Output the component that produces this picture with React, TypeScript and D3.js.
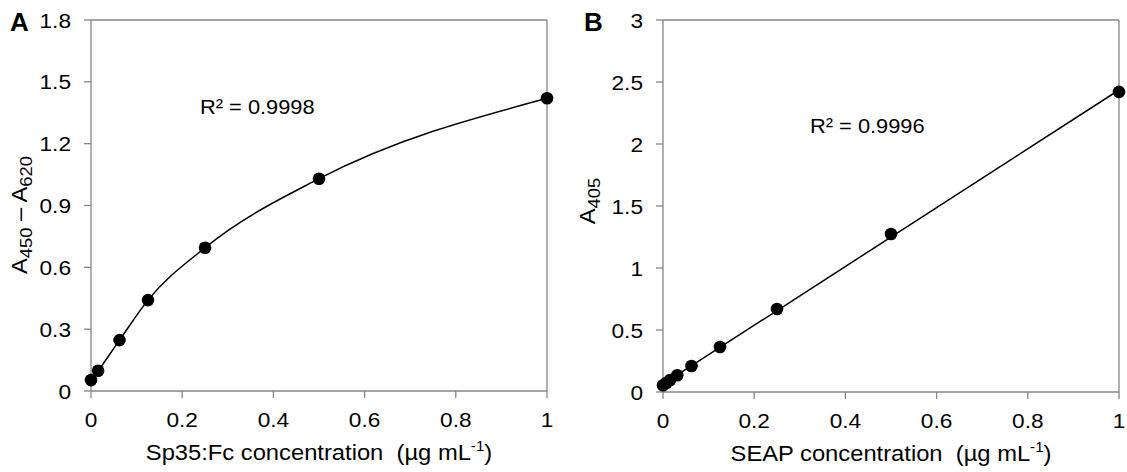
import React from "react";
import * as d3 from "d3";

// Panel A data
const xA = [0, 0.015625, 0.0625, 0.125, 0.25, 0.5, 1];
const yA = [0.053, 0.098, 0.247, 0.441, 0.695, 1.03, 1.42];
// Panel B data
const xB = [0, 0.0078125, 0.015625, 0.03125, 0.0625, 0.125, 0.25, 0.5, 1];
const yB = [0.054, 0.075, 0.097, 0.135, 0.21, 0.363, 0.669, 1.274, 2.42];

const xTicks = [0, 0.2, 0.4, 0.6, 0.8, 1];
const xTickLabels = ["0", "0.2", "0.4", "0.6", "0.8", "1"];
const yTicksA = [0, 0.3, 0.6, 0.9, 1.2, 1.5, 1.8];
const yTickLabelsA = ["0", "0.3", "0.6", "0.9", "1.2", "1.5", "1.8"];
const yTicksB = [0, 0.5, 1, 1.5, 2, 2.5, 3];
const yTickLabelsB = ["0", "0.5", "1", "1.5", "2", "2.5", "3"];

const FONT = "'Liberation Sans', Arial, sans-serif";
const AXIS = "#868686";
const SX = 1.08;

function polyFit(xs: number[], ys: number[], deg: number): number[] {
  const n = deg + 1;
  const A: number[][] = [];
  for (let i = 0; i < n; i++) {
    const row: number[] = [];
    for (let j = 0; j < n; j++) row.push(d3.sum(xs, (x) => Math.pow(x, i + j)));
    row.push(d3.sum(xs, (x, k) => Math.pow(x, i) * ys[k]));
    A.push(row);
  }
  for (let c = 0; c < n; c++) {
    let p = c;
    for (let r = c + 1; r < n; r++) if (Math.abs(A[r][c]) > Math.abs(A[p][c])) p = r;
    [A[c], A[p]] = [A[p], A[c]];
    for (let r = 0; r < n; r++) {
      if (r === c) continue;
      const f = A[r][c] / A[c][c];
      for (let k = c; k <= n; k++) A[r][k] -= f * A[c][k];
    }
  }
  return A.map((row, i) => row[n] / row[i]);
}

const evalPoly = (coef: number[], x: number) =>
  coef.reduce((s, c, i) => s + c * Math.pow(x, i), 0);

function SText(props: {
  x: number;
  y: number;
  size: number;
  anchor?: string;
  dy?: string;
  rotate?: number;
  sx?: number;
  bold?: boolean;
  children: React.ReactNode;
}) {
  const sx = props.sx ?? SX;
  const rot = props.rotate ? ` rotate(${props.rotate})` : "";
  return (
    <text
      transform={`translate(${props.x},${props.y})${rot} scale(${sx},1)`}
      fontSize={props.size}
      textAnchor={props.anchor || "start"}
      dy={props.dy}
      fontWeight={props.bold ? "bold" : "normal"}
      fill="#000"
      style={{ whiteSpace: "pre" }}
    >
      {props.children}
    </text>
  );
}

type PanelProps = {
  letter: string;
  letterX: number;
  xs: number[];
  ys: number[];
  fit: "linear" | "smooth";
  x0: number;
  x1: number;
  y0: number;
  y1: number;
  yMax: number;
  yTicks: number[];
  yTickLabels: string[];
  r2: string;
  r2x: number;
  r2y: number;
  xLabel: string;
  yLabel: React.ReactNode;
  yLabelX: number;
  yLabelY: number;
};

function Panel(p: PanelProps) {
  const x = d3.scaleLinear().domain([0, 1]).range([p.x0, p.x1]);
  const y = d3.scaleLinear().domain([0, p.yMax]).range([p.y0, p.y1]);
  const lineGen = d3
    .line<[number, number]>()
    .x((d) => x(d[0]))
    .y((d) => y(d[1]));
  let pathD = "";
  if (p.fit === "linear") {
    const coef = polyFit(p.xs, p.ys, 1);
    const xmin = d3.min(p.xs) as number;
    const xmax = d3.max(p.xs) as number;
    pathD =
      lineGen([
        [xmin, evalPoly(coef, xmin)],
        [xmax, evalPoly(coef, xmax)],
      ]) || "";
  } else {
    const pts = p.xs.map((xv, i) => [xv, p.ys[i]] as [number, number]);
    pathD = lineGen.curve(d3.curveMonotoneX)(pts) || "";
  }
  const tick = 7;
  const cx = (p.x0 + p.x1) / 2;
  return (
    <g fontFamily={FONT}>
      <line x1={p.x0} x2={p.x1} y1={p.y1} y2={p.y1} stroke={AXIS} strokeWidth={1.3} />
      <line x1={p.x1} x2={p.x1} y1={p.y1} y2={p.y0} stroke={AXIS} strokeWidth={1.3} />
      <line x1={p.x0} x2={p.x1} y1={p.y0} y2={p.y0} stroke={AXIS} strokeWidth={1.3} />
      <line x1={p.x0} x2={p.x0} y1={p.y1} y2={p.y0} stroke={AXIS} strokeWidth={1.3} />
      {xTicks.map((t, i) => (
        <g key={"x" + i}>
          <line x1={x(t)} x2={x(t)} y1={p.y0} y2={p.y0 + tick} stroke={AXIS} strokeWidth={1.3} />
          <SText x={x(t)} y={p.y0 + 35.5} size={21} anchor="middle">
            {xTickLabels[i]}
          </SText>
        </g>
      ))}
      {p.yTicks.map((t, i) => (
        <g key={"y" + i}>
          <line x1={p.x0 - tick} x2={p.x0} y1={y(t)} y2={y(t)} stroke={AXIS} strokeWidth={1.3} />
          <SText x={p.x0 - 20} y={y(t) + 7.5} size={21} anchor="end">
            {p.yTickLabels[i]}
          </SText>
        </g>
      ))}
      <path d={pathD} fill="none" stroke="#000" strokeWidth={1.5} />
      {p.xs.map((xv, i) => (
        <circle key={"c" + i} cx={x(xv)} cy={y(p.ys[i])} r={6.3} fill="#000" />
      ))}
      <SText x={p.r2x} y={p.r2y} size={21} sx={1.04}>
        {"R² = " + p.r2}
      </SText>
      <SText x={cx} y={p.y0 + 69} size={22} anchor="middle">
        {p.xLabel + "  (µg mL"}
        <tspan fontSize={14} dy={-9}>-1</tspan>
        <tspan dy={9}>)</tspan>
      </SText>
      <SText x={p.yLabelX} y={p.yLabelY} size={22} anchor="middle" rotate={-90}>
        {p.yLabel}
      </SText>
      <SText x={p.letterX} y={31} size={26} bold sx={1}>
        {p.letter}
      </SText>
    </g>
  );
}

export default function App() {
  return (
    <svg
      width={1127}
      height={472}
      style={{ position: "absolute", left: 0, top: 0, background: "#fff" }}
    >
      <Panel
        letter="A"
        letterX={10}
        xs={xA}
        ys={yA}
        fit="smooth"
        x0={91}
        x1={547}
        y0={391}
        y1={20}
        yMax={1.8}
        yTicks={yTicksA}
        yTickLabels={yTickLabelsA}
        r2="0.9998"
        r2x={200}
        r2y={114}
        xLabel="Sp35:Fc concentration"
        yLabel={
          <>
            A<tspan fontSize={17} dy={5}>450</tspan>
            <tspan dy={-5}> – A</tspan>
            <tspan fontSize={17} dy={5}>620</tspan>
          </>
        }
        yLabelX={27}
        yLabelY={215}
      />
      <Panel
        letter="B"
        letterX={584}
        xs={xB}
        ys={yB}
        fit="linear"
        x0={663}
        x1={1119}
        y0={392}
        y1={20}
        yMax={3}
        yTicks={yTicksB}
        yTickLabels={yTickLabelsB}
        r2="0.9996"
        r2x={810}
        r2y={133}
        xLabel="SEAP concentration"
        yLabel={
          <>
            A<tspan fontSize={17} dy={5}>405</tspan>
          </>
        }
        yLabelX={595}
        yLabelY={201}
      />
    </svg>
  );
}
